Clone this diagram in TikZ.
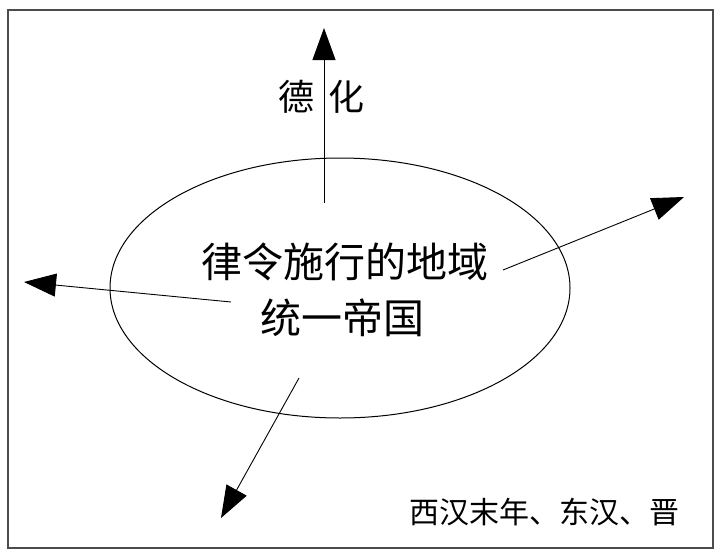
\documentclass[tikz,border=0pt]{standalone}
\usepackage{fontspec}
\newfontfamily\cjk{Noto Sans CJK SC}
\usetikzlibrary{arrows.meta,shapes.geometric}
\begin{document}
\begin{tikzpicture}[x=1pt,y=-1pt,
  conn/.style={line width=0.9pt,-{Triangle[length=32pt,width=23pt]}},
  maintext/.style={font=\cjk\fontsize{41}{44}\selectfont,inner sep=0pt},
  smalltext/.style={font=\cjk\fontsize{36}{38}\selectfont,inner sep=0pt},
  notetext/.style={font=\cjk\fontsize{30}{32}\selectfont,inner sep=0pt}]
\useasboundingbox[fill=white] (0,0) rectangle (720,552);
\draw[line width=1.4pt,black!70] (8,10) rectangle (713,548);
\node[draw,ellipse,line width=1pt,minimum width=460pt,minimum height=260pt,inner sep=0pt] (ell) at (340,288) {};
\node[maintext] (l1) at (345,262) {律令施行的地域};
\node[maintext] (l2) at (342,318) {统一帝国};
\node[smalltext] (de) at (296,97) {德};
\node[smalltext] (hua) at (346,97) {化};
\node[notetext] (note) at (544,512) {西汉末年、东汉、晋};
\coordinate (ts) at (324,203);
\coordinate (tt) at (324,28);
\coordinate (rs) at (503,270);
\coordinate (rt) at (684,197);
\coordinate (ls) at (231,302);
\coordinate (lt) at (24,282);
\coordinate (bs) at (299,378);
\coordinate (bt) at (221,518);
\draw[conn] (ts) -- (tt);
\draw[conn] (rs) -- (rt);
\draw[conn] (ls) -- (lt);
\draw[conn] (bs) -- (bt);
\end{tikzpicture}
\end{document}
